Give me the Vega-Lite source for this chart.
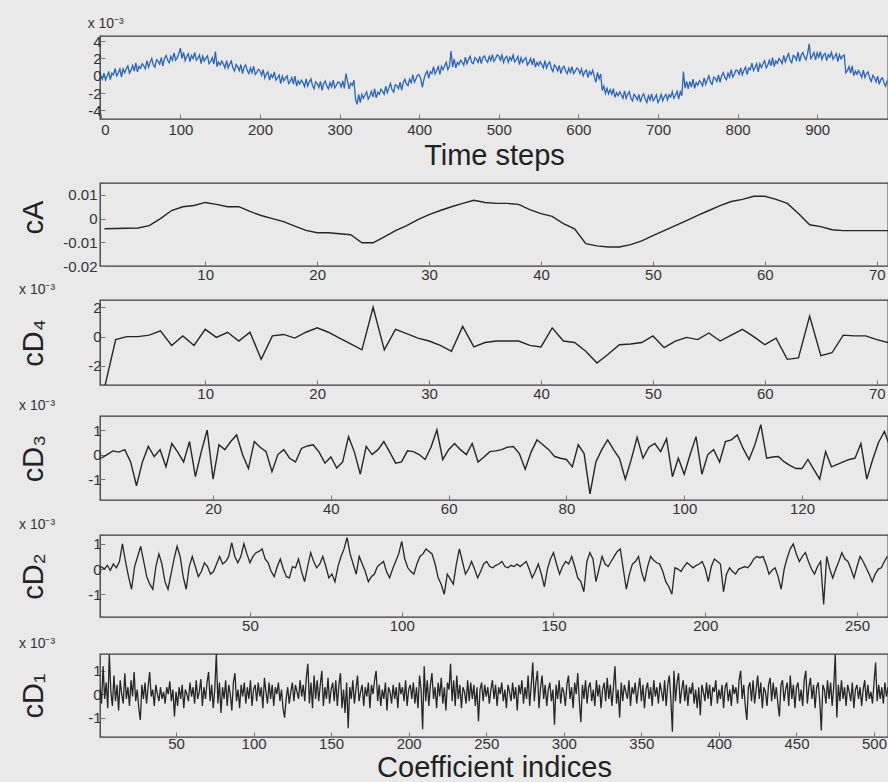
{
"$schema":"https://vega.github.io/schema/vega-lite/v6.json",
"background":"#e9e9ea",
"padding":{"left":18,"top":16,"right":0,"bottom":0},
"bounds":"flush",
"spacing":0,
"config":{
 "font":"Liberation Sans",
 "view":{"stroke":"#3a3a3a","strokeWidth":1.3},
 "axis":{"grid":false,"domain":false,"tickSize":-5,"tickColor":"#777","labelFontSize":15,"labelColor":"#333","titleColor":"#222","titleFontWeight":"normal","labelFont":"Liberation Sans","titleFont":"Liberation Sans","titleFontSize":29},
 "title":{"fontSize":14,"fontWeight":"normal","anchor":"start","offset":3,"color":"#333","font":"Liberation Sans"}
},
"datasets":{
"sig":[{"i":0,"v":0.0},{"i":2,"v":-0.4},{"i":4,"v":0.3},{"i":6,"v":-0.5},{"i":8,"v":0.0},{"i":10,"v":0.4},{"i":12,"v":-0.45},{"i":14,"v":0.3},{"i":16,"v":0.1},{"i":18,"v":0.85},{"i":20,"v":0.0},{"i":22,"v":0.35},{"i":24,"v":0.8},{"i":26,"v":-0.15},{"i":28,"v":0.8},{"i":30,"v":0.35},{"i":32,"v":0.8},{"i":34,"v":1.15},{"i":36,"v":0.3},{"i":38,"v":0.65},{"i":40,"v":1.2},{"i":42,"v":0.55},{"i":44,"v":1.5},{"i":46,"v":0.45},{"i":48,"v":1.1},{"i":50,"v":0.85},{"i":52,"v":1.4},{"i":54,"v":1.15},{"i":56,"v":0.8},{"i":58,"v":1.75},{"i":60,"v":1.0},{"i":62,"v":1.55},{"i":64,"v":2.0},{"i":66,"v":1.25},{"i":68,"v":1.0},{"i":70,"v":1.85},{"i":72,"v":1.7},{"i":74,"v":1.35},{"i":76,"v":2.1},{"i":78,"v":1.15},{"i":80,"v":2.0},{"i":82,"v":2.35},{"i":84,"v":1.8},{"i":86,"v":1.5},{"i":88,"v":2.25},{"i":90,"v":1.8},{"i":92,"v":2.65},{"i":94,"v":1.8},{"i":96,"v":2.1},{"i":98,"v":2.55},{"i":100,"v":3.2},{"i":102,"v":2.0},{"i":104,"v":2.7},{"i":106,"v":1.75},{"i":108,"v":2.25},{"i":110,"v":2.55},{"i":112,"v":1.65},{"i":114,"v":2.35},{"i":116,"v":2.0},{"i":118,"v":2.7},{"i":120,"v":1.8},{"i":122,"v":2.05},{"i":124,"v":2.4},{"i":126,"v":1.4},{"i":128,"v":2.25},{"i":130,"v":1.7},{"i":132,"v":2.05},{"i":134,"v":2.3},{"i":136,"v":1.4},{"i":138,"v":1.65},{"i":140,"v":2.1},{"i":142,"v":1.35},{"i":144,"v":2.8},{"i":146,"v":1.05},{"i":148,"v":1.6},{"i":150,"v":1.25},{"i":152,"v":1.7},{"i":154,"v":1.35},{"i":156,"v":0.9},{"i":158,"v":1.75},{"i":160,"v":0.9},{"i":162,"v":1.35},{"i":164,"v":1.7},{"i":166,"v":0.9},{"i":168,"v":0.55},{"i":170,"v":1.3},{"i":172,"v":1.05},{"i":174,"v":0.6},{"i":176,"v":1.3},{"i":178,"v":0.25},{"i":180,"v":1.0},{"i":182,"v":1.25},{"i":184,"v":0.6},{"i":186,"v":0.25},{"i":188,"v":0.9},{"i":190,"v":0.35},{"i":192,"v":1.1},{"i":194,"v":0.15},{"i":196,"v":0.4},{"i":198,"v":0.75},{"i":200,"v":0.6},{"i":202,"v":0.05},{"i":204,"v":0.7},{"i":206,"v":-0.25},{"i":208,"v":0.2},{"i":210,"v":0.45},{"i":212,"v":-0.5},{"i":214,"v":0.15},{"i":216,"v":-0.2},{"i":218,"v":0.45},{"i":220,"v":-0.5},{"i":222,"v":-0.25},{"i":224,"v":0.1},{"i":226,"v":-0.9},{"i":228,"v":-0.05},{"i":230,"v":-0.6},{"i":232,"v":-0.25},{"i":234,"v":0.0},{"i":236,"v":-0.9},{"i":238,"v":-0.65},{"i":240,"v":-0.2},{"i":242,"v":-0.95},{"i":244,"v":-0.05},{"i":246,"v":-1.2},{"i":248,"v":-0.6},{"i":250,"v":-0.95},{"i":252,"v":-0.5},{"i":254,"v":-0.8},{"i":256,"v":-1.25},{"i":258,"v":-0.35},{"i":260,"v":-1.2},{"i":262,"v":-0.7},{"i":264,"v":-0.35},{"i":266,"v":-1.15},{"i":268,"v":-1.5},{"i":270,"v":-0.7},{"i":272,"v":-0.9},{"i":274,"v":-1.35},{"i":276,"v":-0.65},{"i":278,"v":-1.7},{"i":280,"v":-0.9},{"i":282,"v":-0.6},{"i":284,"v":-1.2},{"i":286,"v":-1.5},{"i":288,"v":-0.8},{"i":290,"v":-1.3},{"i":292,"v":-0.5},{"i":294,"v":-1.4},{"i":296,"v":-1.1},{"i":298,"v":-0.7},{"i":300,"v":-0.8},{"i":302,"v":-1.3},{"i":304,"v":-0.6},{"i":306,"v":-1.45},{"i":308,"v":0.25},{"i":310,"v":-0.65},{"i":312,"v":-1.55},{"i":314,"v":-0.85},{"i":316,"v":-1.1},{"i":318,"v":-0.5},{"i":320,"v":-2.7},{"i":322,"v":-3.3},{"i":324,"v":-2.15},{"i":326,"v":-3.1},{"i":328,"v":-2.15},{"i":330,"v":-2.6},{"i":332,"v":-2.2},{"i":334,"v":-1.85},{"i":336,"v":-2.7},{"i":338,"v":-2.35},{"i":340,"v":-1.8},{"i":342,"v":-2.45},{"i":344,"v":-1.5},{"i":346,"v":-2.55},{"i":348,"v":-1.9},{"i":350,"v":-2.15},{"i":352,"v":-1.55},{"i":354,"v":-1.8},{"i":356,"v":-2.15},{"i":358,"v":-1.2},{"i":360,"v":-1.95},{"i":362,"v":-1.4},{"i":364,"v":-0.9},{"i":366,"v":-1.65},{"i":368,"v":-1.9},{"i":370,"v":-1.05},{"i":372,"v":-1.15},{"i":374,"v":-1.5},{"i":376,"v":-0.75},{"i":378,"v":-1.65},{"i":380,"v":-0.8},{"i":382,"v":-0.4},{"i":384,"v":-0.95},{"i":386,"v":-1.15},{"i":388,"v":-0.4},{"i":390,"v":-0.8},{"i":392,"v":0.1},{"i":394,"v":-0.75},{"i":396,"v":-0.35},{"i":398,"v":0.1},{"i":400,"v":0.1},{"i":402,"v":-0.35},{"i":404,"v":-1.35},{"i":406,"v":-0.4},{"i":408,"v":0.2},{"i":410,"v":0.55},{"i":412,"v":-0.3},{"i":414,"v":0.5},{"i":416,"v":0.25},{"i":418,"v":1.05},{"i":420,"v":0.2},{"i":422,"v":0.6},{"i":424,"v":1.05},{"i":426,"v":0.15},{"i":428,"v":1.1},{"i":430,"v":0.7},{"i":432,"v":1.15},{"i":434,"v":1.55},{"i":436,"v":0.7},{"i":438,"v":1.1},{"i":440,"v":2.85},{"i":442,"v":1.0},{"i":444,"v":1.95},{"i":446,"v":0.9},{"i":448,"v":1.55},{"i":450,"v":1.3},{"i":452,"v":1.8},{"i":454,"v":1.55},{"i":456,"v":1.2},{"i":458,"v":2.15},{"i":460,"v":1.4},{"i":462,"v":1.9},{"i":464,"v":2.25},{"i":466,"v":1.55},{"i":468,"v":1.4},{"i":470,"v":2.1},{"i":472,"v":1.9},{"i":474,"v":1.55},{"i":476,"v":2.25},{"i":478,"v":1.4},{"i":480,"v":2.1},{"i":482,"v":2.3},{"i":484,"v":1.8},{"i":486,"v":1.55},{"i":488,"v":2.25},{"i":490,"v":1.75},{"i":492,"v":2.45},{"i":494,"v":1.65},{"i":496,"v":2.0},{"i":498,"v":2.4},{"i":500,"v":2.3},{"i":502,"v":1.8},{"i":504,"v":2.4},{"i":506,"v":1.55},{"i":508,"v":2.05},{"i":510,"v":2.25},{"i":512,"v":1.55},{"i":514,"v":2.15},{"i":516,"v":1.8},{"i":518,"v":2.4},{"i":520,"v":1.6},{"i":522,"v":1.85},{"i":524,"v":2.25},{"i":526,"v":1.3},{"i":528,"v":2.1},{"i":530,"v":1.55},{"i":532,"v":1.9},{"i":534,"v":2.1},{"i":536,"v":1.25},{"i":538,"v":1.55},{"i":540,"v":2.0},{"i":542,"v":1.25},{"i":544,"v":2.0},{"i":546,"v":1.0},{"i":548,"v":1.55},{"i":550,"v":1.2},{"i":552,"v":1.65},{"i":554,"v":1.3},{"i":556,"v":0.9},{"i":558,"v":1.75},{"i":560,"v":0.9},{"i":562,"v":1.35},{"i":564,"v":1.6},{"i":566,"v":0.85},{"i":568,"v":0.5},{"i":570,"v":1.25},{"i":572,"v":1.0},{"i":574,"v":0.55},{"i":576,"v":1.2},{"i":578,"v":0.25},{"i":580,"v":0.9},{"i":582,"v":1.1},{"i":584,"v":0.55},{"i":586,"v":0.25},{"i":588,"v":0.9},{"i":590,"v":0.4},{"i":592,"v":1.05},{"i":594,"v":0.25},{"i":596,"v":0.5},{"i":598,"v":0.9},{"i":600,"v":0.75},{"i":602,"v":0.25},{"i":604,"v":0.8},{"i":606,"v":0.0},{"i":608,"v":0.45},{"i":610,"v":0.65},{"i":612,"v":-0.2},{"i":614,"v":0.5},{"i":616,"v":0.15},{"i":618,"v":0.65},{"i":620,"v":-0.1},{"i":622,"v":-0.75},{"i":624,"v":0.4},{"i":626,"v":-0.35},{"i":628,"v":0.2},{"i":630,"v":-1.7},{"i":632,"v":-1.2},{"i":634,"v":-2.05},{"i":636,"v":-1.45},{"i":638,"v":-2.1},{"i":640,"v":-1.6},{"i":642,"v":-2.15},{"i":644,"v":-1.5},{"i":646,"v":-2.5},{"i":648,"v":-1.95},{"i":650,"v":-2.3},{"i":652,"v":-1.85},{"i":654,"v":-2.2},{"i":656,"v":-2.6},{"i":658,"v":-1.75},{"i":660,"v":-2.6},{"i":662,"v":-2.15},{"i":664,"v":-1.85},{"i":666,"v":-2.6},{"i":668,"v":-2.9},{"i":670,"v":-2.15},{"i":672,"v":-2.4},{"i":674,"v":-2.8},{"i":676,"v":-2.15},{"i":678,"v":-3.05},{"i":680,"v":-2.4},{"i":682,"v":-2.1},{"i":684,"v":-2.7},{"i":686,"v":-3.1},{"i":688,"v":-2.3},{"i":690,"v":-2.8},{"i":692,"v":-2.1},{"i":694,"v":-2.9},{"i":696,"v":-2.6},{"i":698,"v":-2.2},{"i":700,"v":-3.1},{"i":702,"v":-2.75},{"i":704,"v":-2.15},{"i":706,"v":-2.9},{"i":708,"v":-2.4},{"i":710,"v":-2.15},{"i":712,"v":-2.8},{"i":714,"v":-2.2},{"i":716,"v":-2.45},{"i":718,"v":-1.85},{"i":720,"v":-2.6},{"i":722,"v":-2.25},{"i":724,"v":-1.8},{"i":726,"v":-2.7},{"i":728,"v":-1.85},{"i":730,"v":-2.3},{"i":732,"v":0.5},{"i":734,"v":-1.45},{"i":736,"v":-0.65},{"i":738,"v":-1.5},{"i":740,"v":-0.65},{"i":742,"v":-1.3},{"i":744,"v":-0.4},{"i":746,"v":-1.45},{"i":748,"v":-0.8},{"i":750,"v":-1.1},{"i":752,"v":-0.55},{"i":754,"v":-0.8},{"i":756,"v":-1.15},{"i":758,"v":-0.25},{"i":760,"v":-1.0},{"i":762,"v":-0.45},{"i":764,"v":0.0},{"i":766,"v":-0.75},{"i":768,"v":-1.0},{"i":770,"v":-0.15},{"i":772,"v":-0.3},{"i":774,"v":-0.65},{"i":776,"v":0.1},{"i":778,"v":-0.75},{"i":780,"v":0.0},{"i":782,"v":0.35},{"i":784,"v":-0.2},{"i":786,"v":-0.45},{"i":788,"v":0.3},{"i":790,"v":-0.15},{"i":792,"v":0.7},{"i":794,"v":-0.15},{"i":796,"v":0.2},{"i":798,"v":0.65},{"i":800,"v":0.6},{"i":802,"v":0.15},{"i":804,"v":0.9},{"i":806,"v":0.1},{"i":808,"v":0.65},{"i":810,"v":1.0},{"i":812,"v":0.15},{"i":814,"v":0.9},{"i":816,"v":0.7},{"i":818,"v":1.45},{"i":820,"v":0.6},{"i":822,"v":0.95},{"i":824,"v":1.4},{"i":826,"v":0.45},{"i":828,"v":1.4},{"i":830,"v":0.95},{"i":832,"v":1.4},{"i":834,"v":1.75},{"i":836,"v":0.9},{"i":838,"v":1.25},{"i":840,"v":1.8},{"i":842,"v":1.15},{"i":844,"v":2.1},{"i":846,"v":1.05},{"i":848,"v":1.7},{"i":850,"v":1.45},{"i":852,"v":2.0},{"i":854,"v":1.75},{"i":856,"v":1.4},{"i":858,"v":2.35},{"i":860,"v":1.6},{"i":862,"v":2.15},{"i":864,"v":2.55},{"i":866,"v":1.8},{"i":868,"v":1.5},{"i":870,"v":2.35},{"i":872,"v":2.2},{"i":874,"v":1.8},{"i":876,"v":2.75},{"i":878,"v":1.65},{"i":880,"v":2.4},{"i":882,"v":2.7},{"i":884,"v":2.15},{"i":886,"v":1.85},{"i":888,"v":2.55},{"i":890,"v":3.7},{"i":892,"v":2.0},{"i":894,"v":2.3},{"i":896,"v":2.7},{"i":898,"v":1.85},{"i":900,"v":2.65},{"i":902,"v":2.15},{"i":904,"v":2.8},{"i":906,"v":1.9},{"i":908,"v":2.4},{"i":910,"v":2.6},{"i":912,"v":1.75},{"i":914,"v":2.45},{"i":916,"v":2.15},{"i":918,"v":2.7},{"i":920,"v":1.9},{"i":922,"v":2.2},{"i":924,"v":2.55},{"i":926,"v":1.65},{"i":928,"v":2.45},{"i":930,"v":1.95},{"i":932,"v":2.3},{"i":934,"v":2.4},{"i":936,"v":0.35},{"i":938,"v":0.6},{"i":940,"v":1.05},{"i":942,"v":0.3},{"i":944,"v":1.15},{"i":946,"v":0.0},{"i":948,"v":0.55},{"i":950,"v":0.15},{"i":952,"v":0.6},{"i":954,"v":0.25},{"i":956,"v":-0.2},{"i":958,"v":0.65},{"i":960,"v":-0.2},{"i":962,"v":0.25},{"i":964,"v":0.45},{"i":966,"v":-0.3},{"i":968,"v":-0.65},{"i":970,"v":0.05},{"i":972,"v":-0.2},{"i":974,"v":-0.7},{"i":976,"v":-0.05},{"i":978,"v":-1.0},{"i":980,"v":-0.4},{"i":982,"v":-0.25},{"i":984,"v":-0.8},{"i":986,"v":-1.2},{"i":988,"v":-0.55}],
"ca":[{"i":1,"v":-0.0043},{"i":2,"v":-0.0042},{"i":3,"v":-0.0041},{"i":4,"v":-0.004},{"i":5,"v":-0.003},{"i":6,"v":0.0},{"i":7,"v":0.0034},{"i":8,"v":0.005},{"i":9,"v":0.0055},{"i":10,"v":0.0068},{"i":11,"v":0.006},{"i":12,"v":0.005},{"i":13,"v":0.005},{"i":14,"v":0.003},{"i":15,"v":0.0013},{"i":16,"v":0.0},{"i":17,"v":-0.0013},{"i":18,"v":-0.0032},{"i":19,"v":-0.005},{"i":20,"v":-0.006},{"i":21,"v":-0.006},{"i":22,"v":-0.0064},{"i":23,"v":-0.0068},{"i":24,"v":-0.0102},{"i":25,"v":-0.0102},{"i":26,"v":-0.0077},{"i":27,"v":-0.0051},{"i":28,"v":-0.003},{"i":29,"v":-0.0004},{"i":30,"v":0.0017},{"i":31,"v":0.0034},{"i":32,"v":0.005},{"i":33,"v":0.0064},{"i":34,"v":0.0077},{"i":35,"v":0.0068},{"i":36,"v":0.0064},{"i":37,"v":0.0064},{"i":38,"v":0.006},{"i":39,"v":0.0038},{"i":40,"v":0.0021},{"i":41,"v":0.0009},{"i":42,"v":-0.0021},{"i":43,"v":-0.0043},{"i":44,"v":-0.0106},{"i":45,"v":-0.0115},{"i":46,"v":-0.012},{"i":47,"v":-0.012},{"i":48,"v":-0.011},{"i":49,"v":-0.0094},{"i":50,"v":-0.0072},{"i":51,"v":-0.0051},{"i":52,"v":-0.003},{"i":53,"v":-0.0009},{"i":54,"v":0.0013},{"i":55,"v":0.0034},{"i":56,"v":0.0055},{"i":57,"v":0.0072},{"i":58,"v":0.0081},{"i":59,"v":0.0094},{"i":60,"v":0.0094},{"i":61,"v":0.0081},{"i":62,"v":0.0064},{"i":63,"v":0.0021},{"i":64,"v":-0.0026},{"i":65,"v":-0.0034},{"i":66,"v":-0.0047},{"i":67,"v":-0.0051},{"i":68,"v":-0.0051},{"i":69,"v":-0.0051},{"i":70,"v":-0.0051},{"i":71,"v":-0.0051}],
"d4":[{"i":1,"v":-3.5},{"i":2,"v":-0.2},{"i":3,"v":0},{"i":4,"v":0},{"i":5,"v":0.1},{"i":6,"v":0.4},{"i":7,"v":-0.6},{"i":8,"v":0.05},{"i":9,"v":-0.6},{"i":10,"v":0.5},{"i":11,"v":-0.05},{"i":12,"v":0.3},{"i":13,"v":-0.3},{"i":14,"v":0.3},{"i":15,"v":-1.55},{"i":16,"v":0.05},{"i":17,"v":0.15},{"i":18,"v":-0.1},{"i":19,"v":0.3},{"i":20,"v":0.6},{"i":21,"v":0.3},{"i":22,"v":-0.1},{"i":23,"v":-0.5},{"i":24,"v":-0.9},{"i":25,"v":2.0},{"i":26,"v":-0.9},{"i":27,"v":0.5},{"i":28,"v":0.2},{"i":29,"v":-0.1},{"i":30,"v":-0.3},{"i":31,"v":-0.6},{"i":32,"v":-1.0},{"i":33,"v":0.7},{"i":34,"v":-0.7},{"i":35,"v":-0.4},{"i":36,"v":-0.3},{"i":37,"v":-0.3},{"i":38,"v":-0.3},{"i":39,"v":-0.6},{"i":40,"v":-0.7},{"i":41,"v":0.6},{"i":42,"v":-0.3},{"i":43,"v":-0.4},{"i":44,"v":-1.0},{"i":45,"v":-1.8},{"i":46,"v":-1.2},{"i":47,"v":-0.55},{"i":48,"v":-0.5},{"i":49,"v":-0.4},{"i":50,"v":0.05},{"i":51,"v":-0.75},{"i":52,"v":-0.3},{"i":53,"v":-0.05},{"i":54,"v":-0.2},{"i":55,"v":0.25},{"i":56,"v":-0.3},{"i":57,"v":0.1},{"i":58,"v":0.5},{"i":59,"v":0.0},{"i":60,"v":-0.55},{"i":61,"v":-0.1},{"i":62,"v":-1.55},{"i":63,"v":-1.45},{"i":64,"v":1.4},{"i":65,"v":-1.3},{"i":66,"v":-1.1},{"i":67,"v":0.1},{"i":68,"v":0.05},{"i":69,"v":0.05},{"i":70,"v":-0.2},{"i":71,"v":-0.4}],
"d3":[{"i":1,"v":-0.15},{"i":2,"v":0},{"i":3,"v":0.15},{"i":4,"v":0.1},{"i":5,"v":0.2},{"i":6,"v":-0.3},{"i":7,"v":-1.27},{"i":8,"v":-0.3},{"i":9,"v":0.33},{"i":10,"v":-0.08},{"i":11,"v":0.2},{"i":12,"v":-0.5},{"i":13,"v":0.45},{"i":14,"v":0.1},{"i":15,"v":-0.3},{"i":16,"v":0.53},{"i":17,"v":-0.9},{"i":18,"v":0.12},{"i":19,"v":1.0},{"i":20,"v":-1.0},{"i":21,"v":0.4},{"i":22,"v":0.2},{"i":23,"v":0.53},{"i":24,"v":0.8},{"i":25,"v":0},{"i":26,"v":-0.57},{"i":27,"v":0.53},{"i":28,"v":0.3},{"i":29,"v":0.12},{"i":30,"v":-0.7},{"i":31,"v":0.0},{"i":32,"v":0.2},{"i":33,"v":-0.15},{"i":34,"v":-0.3},{"i":35,"v":0.25},{"i":36,"v":0.35},{"i":37,"v":0.4},{"i":38,"v":0.1},{"i":39,"v":-0.35},{"i":40,"v":-0.1},{"i":41,"v":-0.55},{"i":42,"v":-0.3},{"i":43,"v":0.73},{"i":44,"v":0.1},{"i":45,"v":-0.8},{"i":46,"v":0.33},{"i":47,"v":0},{"i":48,"v":0.2},{"i":49,"v":0.53},{"i":50,"v":0.1},{"i":51,"v":-0.35},{"i":52,"v":-0.3},{"i":53,"v":0.15},{"i":54,"v":0.12},{"i":55,"v":0},{"i":56,"v":-0.2},{"i":57,"v":0.3},{"i":58,"v":1.0},{"i":59,"v":-0.2},{"i":60,"v":0.2},{"i":61,"v":0.45},{"i":62,"v":0.2},{"i":63,"v":0},{"i":64,"v":0.45},{"i":65,"v":-0.3},{"i":66,"v":-0.1},{"i":67,"v":0.12},{"i":68,"v":0.15},{"i":69,"v":0.2},{"i":70,"v":0.3},{"i":71,"v":0.33},{"i":72,"v":0.04},{"i":73,"v":-0.6},{"i":74,"v":0.1},{"i":75,"v":0.6},{"i":76,"v":0.4},{"i":77,"v":0.2},{"i":78,"v":-0.08},{"i":79,"v":-0.15},{"i":80,"v":-0.2},{"i":81,"v":-0.5},{"i":82,"v":0.4},{"i":83,"v":0.04},{"i":84,"v":-1.6},{"i":85,"v":-0.3},{"i":86,"v":0.2},{"i":87,"v":0.6},{"i":88,"v":0.2},{"i":89,"v":-0.15},{"i":90,"v":-1.0},{"i":91,"v":-0.2},{"i":92,"v":0.7},{"i":93,"v":-0.15},{"i":94,"v":0.3},{"i":95,"v":0.45},{"i":96,"v":0.12},{"i":97,"v":0.65},{"i":98,"v":-0.9},{"i":99,"v":-0.15},{"i":100,"v":-0.8},{"i":101,"v":0},{"i":102,"v":0.73},{"i":103,"v":-0.8},{"i":104,"v":0},{"i":105,"v":0.2},{"i":106,"v":-0.3},{"i":107,"v":0.53},{"i":108,"v":0.6},{"i":109,"v":0.8},{"i":110,"v":0.25},{"i":111,"v":-0.2},{"i":112,"v":0.4},{"i":113,"v":1.22},{"i":114,"v":-0.15},{"i":115,"v":-0.1},{"i":116,"v":-0.08},{"i":117,"v":-0.3},{"i":118,"v":-0.45},{"i":119,"v":-0.57},{"i":120,"v":-0.57},{"i":121,"v":-0.2},{"i":122,"v":-0.6},{"i":123,"v":-1.0},{"i":124,"v":0.12},{"i":125,"v":-0.5},{"i":126,"v":-0.4},{"i":127,"v":-0.3},{"i":128,"v":-0.2},{"i":129,"v":-0.15},{"i":130,"v":0.45},{"i":131,"v":-1.0},{"i":132,"v":-0.2},{"i":133,"v":0.5},{"i":134,"v":0.94},{"i":135,"v":0.25}],
"d2":[{"i":1,"v":0.1},{"i":2,"v":0.0},{"i":3,"v":0.15},{"i":4,"v":-0.05},{"i":5,"v":0.2},{"i":6,"v":0.05},{"i":7,"v":0.3},{"i":8,"v":1.0},{"i":9,"v":0.3},{"i":10,"v":-0.3},{"i":11,"v":-0.8},{"i":12,"v":0.1},{"i":13,"v":0.5},{"i":14,"v":0.9},{"i":15,"v":0.3},{"i":16,"v":-0.3},{"i":17,"v":-0.6},{"i":18,"v":-0.8},{"i":19,"v":0.1},{"i":20,"v":0.6},{"i":21,"v":0.2},{"i":22,"v":-0.5},{"i":23,"v":-0.8},{"i":24,"v":-0.2},{"i":25,"v":0.4},{"i":26,"v":0.9},{"i":27,"v":0.5},{"i":28,"v":-0.3},{"i":29,"v":-0.8},{"i":30,"v":0.1},{"i":31,"v":0.5},{"i":32,"v":0.1},{"i":33,"v":-0.3},{"i":34,"v":-0.1},{"i":35,"v":0.25},{"i":36,"v":0.1},{"i":37,"v":-0.2},{"i":38,"v":-0.1},{"i":39,"v":0.2},{"i":40,"v":0.5},{"i":41,"v":0.2},{"i":42,"v":0.3},{"i":43,"v":0.5},{"i":44,"v":1.05},{"i":45,"v":0.5},{"i":46,"v":0.25},{"i":47,"v":0.5},{"i":48,"v":1.0},{"i":49,"v":0.6},{"i":50,"v":0.25},{"i":51,"v":0.5},{"i":52,"v":0.65},{"i":53,"v":0.7},{"i":54,"v":0.8},{"i":55,"v":0.4},{"i":56,"v":0.25},{"i":57,"v":-0.1},{"i":58,"v":-0.3},{"i":59,"v":0.1},{"i":60,"v":0.4},{"i":61,"v":0.0},{"i":62,"v":-0.3},{"i":63,"v":-0.35},{"i":64,"v":0.1},{"i":65,"v":0.05},{"i":66,"v":0.4},{"i":67,"v":-0.1},{"i":68,"v":-0.5},{"i":69,"v":0.1},{"i":70,"v":0.65},{"i":71,"v":0.3},{"i":72,"v":0.05},{"i":73,"v":0.2},{"i":74,"v":0.5},{"i":75,"v":0.1},{"i":76,"v":-0.35},{"i":77,"v":-0.2},{"i":78,"v":-0.5},{"i":79,"v":0.1},{"i":80,"v":0.5},{"i":81,"v":0.8},{"i":82,"v":1.25},{"i":83,"v":0.6},{"i":84,"v":0.2},{"i":85,"v":-0.2},{"i":86,"v":0.5},{"i":87,"v":0.2},{"i":88,"v":-0.1},{"i":89,"v":-0.5},{"i":90,"v":-0.3},{"i":91,"v":-0.2},{"i":92,"v":0.1},{"i":93,"v":0.2},{"i":94,"v":0.3},{"i":95,"v":-0.1},{"i":96,"v":-0.35},{"i":97,"v":0.0},{"i":98,"v":0.3},{"i":99,"v":0.6},{"i":100,"v":1.1},{"i":101,"v":0.4},{"i":102,"v":0.05},{"i":103,"v":-0.1},{"i":104,"v":-0.2},{"i":105,"v":0.2},{"i":106,"v":0.5},{"i":107,"v":0.6},{"i":108,"v":0.8},{"i":109,"v":0.7},{"i":110,"v":0.6},{"i":111,"v":0.2},{"i":112,"v":-0.35},{"i":113,"v":-0.6},{"i":114,"v":-1.0},{"i":115,"v":-0.2},{"i":116,"v":-0.4},{"i":117,"v":-0.6},{"i":118,"v":0.2},{"i":119,"v":0.8},{"i":120,"v":0.3},{"i":121,"v":-0.2},{"i":122,"v":0.0},{"i":123,"v":0.3},{"i":124,"v":0.0},{"i":125,"v":-0.35},{"i":126,"v":-0.1},{"i":127,"v":0.2},{"i":128,"v":0.3},{"i":129,"v":0.1},{"i":130,"v":0.05},{"i":131,"v":0.15},{"i":132,"v":0.2},{"i":133,"v":0.3},{"i":134,"v":0.1},{"i":135,"v":0.05},{"i":136,"v":0.15},{"i":137,"v":0.1},{"i":138,"v":0.2},{"i":139,"v":0.1},{"i":140,"v":0.2},{"i":141,"v":0.3},{"i":142,"v":0.0},{"i":143,"v":-0.35},{"i":144,"v":-0.1},{"i":145,"v":0.2},{"i":146,"v":-0.2},{"i":147,"v":-0.7},{"i":148,"v":0.0},{"i":149,"v":0.4},{"i":150,"v":0.65},{"i":151,"v":0.2},{"i":152,"v":-0.2},{"i":153,"v":0.1},{"i":154,"v":0.3},{"i":155,"v":0.2},{"i":156,"v":0.5},{"i":157,"v":0.1},{"i":158,"v":-0.35},{"i":159,"v":-0.5},{"i":160,"v":-0.9},{"i":161,"v":0.3},{"i":162,"v":0.65},{"i":163,"v":0.4},{"i":164,"v":-0.5},{"i":165,"v":0.0},{"i":166,"v":0.5},{"i":167,"v":0.2},{"i":168,"v":0.1},{"i":169,"v":0.3},{"i":170,"v":0.5},{"i":171,"v":0.7},{"i":172,"v":0.8},{"i":173,"v":0.0},{"i":174,"v":-0.8},{"i":175,"v":-0.2},{"i":176,"v":0.2},{"i":177,"v":0.3},{"i":178,"v":0.5},{"i":179,"v":-0.1},{"i":180,"v":-0.5},{"i":181,"v":0.1},{"i":182,"v":0.5},{"i":183,"v":0.35},{"i":184,"v":0.25},{"i":185,"v":0.2},{"i":186,"v":-0.1},{"i":187,"v":-0.5},{"i":188,"v":-0.7},{"i":189,"v":-1.0},{"i":190,"v":0.05},{"i":191,"v":0.0},{"i":192,"v":-0.1},{"i":193,"v":0.1},{"i":194,"v":0.25},{"i":195,"v":0.15},{"i":196,"v":0.05},{"i":197,"v":0.15},{"i":198,"v":0.2},{"i":199,"v":0.3},{"i":200,"v":0.0},{"i":201,"v":-0.5},{"i":202,"v":0.1},{"i":203,"v":0.4},{"i":204,"v":0.3},{"i":205,"v":0.2},{"i":206,"v":-0.9},{"i":207,"v":-0.2},{"i":208,"v":0.05},{"i":209,"v":-0.1},{"i":210,"v":-0.2},{"i":211,"v":0.0},{"i":212,"v":0.05},{"i":213,"v":0.1},{"i":214,"v":0.05},{"i":215,"v":0.2},{"i":216,"v":0.4},{"i":217,"v":0.5},{"i":218,"v":0.45},{"i":219,"v":0.5},{"i":220,"v":0.2},{"i":221,"v":-0.2},{"i":222,"v":-0.05},{"i":223,"v":0.05},{"i":224,"v":-0.3},{"i":225,"v":-0.8},{"i":226,"v":0.0},{"i":227,"v":0.45},{"i":228,"v":0.8},{"i":229,"v":1.0},{"i":230,"v":0.6},{"i":231,"v":0.3},{"i":232,"v":0.5},{"i":233,"v":0.65},{"i":234,"v":0.3},{"i":235,"v":0.0},{"i":236,"v":-0.2},{"i":237,"v":0.1},{"i":238,"v":0.3},{"i":239,"v":-1.4},{"i":240,"v":0.5},{"i":241,"v":0.0},{"i":242,"v":-0.35},{"i":243,"v":0.0},{"i":244,"v":0.3},{"i":245,"v":0.65},{"i":246,"v":0.4},{"i":247,"v":0.3},{"i":248,"v":0.0},{"i":249,"v":-0.35},{"i":250,"v":0.1},{"i":251,"v":0.5},{"i":252,"v":0.3},{"i":253,"v":0.05},{"i":254,"v":-0.2},{"i":255,"v":-0.5},{"i":256,"v":-0.2},{"i":257,"v":0.0},{"i":258,"v":0.05},{"i":259,"v":0.3},{"i":260,"v":0.5}],
"d1":[{"i":1,"v":0.3},{"i":2,"v":-0.4},{"i":3,"v":1.2},{"i":4,"v":-0.2},{"i":5,"v":0.5},{"i":6,"v":-0.6},{"i":7,"v":1.7},{"i":8,"v":0.1},{"i":9,"v":-0.5},{"i":10,"v":0.8},{"i":11,"v":-0.3},{"i":12,"v":0.4},{"i":13,"v":-0.7},{"i":14,"v":0.6},{"i":15,"v":0.0},{"i":16,"v":-0.4},{"i":17,"v":0.9},{"i":18,"v":-0.2},{"i":19,"v":0.3},{"i":20,"v":-0.5},{"i":21,"v":0.6},{"i":22,"v":-0.1},{"i":23,"v":0.95},{"i":24,"v":-0.3},{"i":25,"v":0.2},{"i":26,"v":-0.6},{"i":27,"v":-1.1},{"i":28,"v":0.4},{"i":29,"v":-0.2},{"i":30,"v":0.5},{"i":31,"v":-0.4},{"i":32,"v":0.3},{"i":33,"v":0.95},{"i":34,"v":-0.1},{"i":35,"v":0.2},{"i":36,"v":-0.5},{"i":37,"v":0.4},{"i":38,"v":0.0},{"i":39,"v":-0.3},{"i":40,"v":0.3},{"i":41,"v":-0.2},{"i":42,"v":0.1},{"i":43,"v":-0.4},{"i":44,"v":0.3},{"i":45,"v":0.0},{"i":46,"v":0.55},{"i":47,"v":-0.3},{"i":48,"v":0.2},{"i":49,"v":-0.95},{"i":50,"v":0.1},{"i":51,"v":-0.5},{"i":52,"v":0.3},{"i":53,"v":-0.2},{"i":54,"v":0.4},{"i":55,"v":-0.6},{"i":56,"v":0.2},{"i":57,"v":0.0},{"i":58,"v":-0.3},{"i":59,"v":0.5},{"i":60,"v":-0.1},{"i":61,"v":0.3},{"i":62,"v":-0.4},{"i":63,"v":0.6},{"i":64,"v":-0.2},{"i":65,"v":0.1},{"i":66,"v":0.65},{"i":67,"v":-0.5},{"i":68,"v":0.3},{"i":69,"v":-0.2},{"i":70,"v":0.5},{"i":71,"v":0.95},{"i":72,"v":-0.3},{"i":73,"v":0.4},{"i":74,"v":-0.6},{"i":75,"v":0.2},{"i":76,"v":1.75},{"i":77,"v":-0.4},{"i":78,"v":0.5},{"i":79,"v":-0.8},{"i":80,"v":0.3},{"i":81,"v":-0.2},{"i":82,"v":0.6},{"i":83,"v":-0.5},{"i":84,"v":0.4},{"i":85,"v":0.0},{"i":86,"v":-0.7},{"i":87,"v":0.5},{"i":88,"v":0.9},{"i":89,"v":-0.3},{"i":90,"v":0.2},{"i":91,"v":-0.6},{"i":92,"v":0.4},{"i":93,"v":-0.1},{"i":94,"v":0.5},{"i":95,"v":-0.4},{"i":96,"v":0.3},{"i":97,"v":-0.2},{"i":98,"v":0.6},{"i":99,"v":-0.5},{"i":100,"v":0.2},{"i":101,"v":0.4},{"i":102,"v":-0.3},{"i":103,"v":0.5},{"i":104,"v":-0.1},{"i":105,"v":0.3},{"i":106,"v":-0.6},{"i":107,"v":0.7},{"i":108,"v":0.1},{"i":109,"v":-0.4},{"i":110,"v":0.5},{"i":111,"v":-0.2},{"i":112,"v":0.4},{"i":113,"v":-0.5},{"i":114,"v":0.3},{"i":115,"v":0.0},{"i":116,"v":0.5},{"i":117,"v":-0.3},{"i":118,"v":0.2},{"i":119,"v":-0.6},{"i":120,"v":-1.0},{"i":121,"v":-0.2},{"i":122,"v":0.3},{"i":123,"v":-0.4},{"i":124,"v":0.1},{"i":125,"v":0.5},{"i":126,"v":-0.3},{"i":127,"v":0.4},{"i":128,"v":0.1},{"i":129,"v":-0.2},{"i":130,"v":0.6},{"i":131,"v":-0.1},{"i":132,"v":0.4},{"i":133,"v":-0.3},{"i":134,"v":0.7},{"i":135,"v":1.3},{"i":136,"v":-0.4},{"i":137,"v":0.5},{"i":138,"v":-0.6},{"i":139,"v":0.8},{"i":140,"v":-0.2},{"i":141,"v":0.6},{"i":142,"v":-0.3},{"i":143,"v":0.4},{"i":144,"v":1.0},{"i":145,"v":-0.5},{"i":146,"v":0.3},{"i":147,"v":-0.2},{"i":148,"v":0.7},{"i":149,"v":-0.4},{"i":150,"v":0.2},{"i":151,"v":0.5},{"i":152,"v":-0.3},{"i":153,"v":0.6},{"i":154,"v":-0.5},{"i":155,"v":0.4},{"i":156,"v":0.9},{"i":157,"v":-0.6},{"i":158,"v":0.2},{"i":159,"v":-0.8},{"i":160,"v":0.5},{"i":161,"v":-1.45},{"i":162,"v":0.3},{"i":163,"v":-0.2},{"i":164,"v":0.6},{"i":165,"v":-0.4},{"i":166,"v":0.2},{"i":167,"v":0.8},{"i":168,"v":-0.3},{"i":169,"v":0.1},{"i":170,"v":0.4},{"i":171,"v":-0.5},{"i":172,"v":0.3},{"i":173,"v":-0.1},{"i":174,"v":0.5},{"i":175,"v":-0.6},{"i":176,"v":0.4},{"i":177,"v":0.0},{"i":178,"v":0.6},{"i":179,"v":1.0},{"i":180,"v":-0.3},{"i":181,"v":0.4},{"i":182,"v":-0.5},{"i":183,"v":0.2},{"i":184,"v":-0.2},{"i":185,"v":0.5},{"i":186,"v":-0.7},{"i":187,"v":0.3},{"i":188,"v":0.1},{"i":189,"v":-0.4},{"i":190,"v":0.4},{"i":191,"v":-0.2},{"i":192,"v":0.3},{"i":193,"v":-0.6},{"i":194,"v":0.5},{"i":195,"v":0.0},{"i":196,"v":0.3},{"i":197,"v":-0.3},{"i":198,"v":0.6},{"i":199,"v":-0.5},{"i":200,"v":0.2},{"i":201,"v":0.4},{"i":202,"v":-0.2},{"i":203,"v":0.5},{"i":204,"v":-0.4},{"i":205,"v":0.3},{"i":206,"v":-0.6},{"i":207,"v":0.8},{"i":208,"v":0.2},{"i":209,"v":-1.5},{"i":210,"v":1.2},{"i":211,"v":-0.3},{"i":212,"v":0.6},{"i":213,"v":-0.5},{"i":214,"v":0.4},{"i":215,"v":0.9},{"i":216,"v":-0.2},{"i":217,"v":0.3},{"i":218,"v":-0.6},{"i":219,"v":0.5},{"i":220,"v":-0.1},{"i":221,"v":0.7},{"i":222,"v":-0.4},{"i":223,"v":0.3},{"i":224,"v":-0.7},{"i":225,"v":0.5},{"i":226,"v":0.2},{"i":227,"v":1.3},{"i":228,"v":-0.3},{"i":229,"v":0.6},{"i":230,"v":-0.5},{"i":231,"v":0.8},{"i":232,"v":-0.2},{"i":233,"v":0.4},{"i":234,"v":-0.6},{"i":235,"v":0.3},{"i":236,"v":0.1},{"i":237,"v":-0.4},{"i":238,"v":0.6},{"i":239,"v":-0.3},{"i":240,"v":0.5},{"i":241,"v":-0.2},{"i":242,"v":0.4},{"i":243,"v":-0.5},{"i":244,"v":0.3},{"i":245,"v":-1.15},{"i":246,"v":0.2},{"i":247,"v":0.5},{"i":248,"v":-0.3},{"i":249,"v":0.4},{"i":250,"v":-0.1},{"i":251,"v":0.3},{"i":252,"v":-0.4},{"i":253,"v":0.2},{"i":254,"v":0.6},{"i":255,"v":-0.2},{"i":256,"v":0.4},{"i":257,"v":-0.5},{"i":258,"v":0.3},{"i":259,"v":0.0},{"i":260,"v":0.5},{"i":261,"v":-0.3},{"i":262,"v":0.2},{"i":263,"v":-0.6},{"i":264,"v":0.4},{"i":265,"v":0.1},{"i":266,"v":-0.3},{"i":267,"v":0.5},{"i":268,"v":-0.2},{"i":269,"v":0.3},{"i":270,"v":-0.7},{"i":271,"v":0.4},{"i":272,"v":0.0},{"i":273,"v":0.6},{"i":274,"v":-0.4},{"i":275,"v":0.3},{"i":276,"v":-0.2},{"i":277,"v":0.8},{"i":278,"v":-0.5},{"i":279,"v":0.4},{"i":280,"v":1.35},{"i":281,"v":-0.3},{"i":282,"v":0.5},{"i":283,"v":1.0},{"i":284,"v":-0.6},{"i":285,"v":0.3},{"i":286,"v":0.8},{"i":287,"v":-0.2},{"i":288,"v":0.4},{"i":289,"v":-0.5},{"i":290,"v":0.2},{"i":291,"v":0.5},{"i":292,"v":-0.3},{"i":293,"v":0.2},{"i":294,"v":-1.3},{"i":295,"v":0.4},{"i":296,"v":-0.2},{"i":297,"v":0.6},{"i":298,"v":-0.4},{"i":299,"v":0.3},{"i":300,"v":0.1},{"i":301,"v":-0.5},{"i":302,"v":0.4},{"i":303,"v":0.8},{"i":304,"v":-0.2},{"i":305,"v":0.3},{"i":306,"v":-0.6},{"i":307,"v":0.5},{"i":308,"v":0.0},{"i":309,"v":0.9},{"i":310,"v":-0.3},{"i":311,"v":-1.2},{"i":312,"v":0.4},{"i":313,"v":-0.2},{"i":314,"v":0.6},{"i":315,"v":-0.4},{"i":316,"v":0.3},{"i":317,"v":0.5},{"i":318,"v":-0.3},{"i":319,"v":0.2},{"i":320,"v":-0.5},{"i":321,"v":0.6},{"i":322,"v":-0.1},{"i":323,"v":0.4},{"i":324,"v":-0.6},{"i":325,"v":0.2},{"i":326,"v":0.5},{"i":327,"v":-0.3},{"i":328,"v":0.7},{"i":329,"v":-0.2},{"i":330,"v":0.4},{"i":331,"v":-0.5},{"i":332,"v":0.3},{"i":333,"v":1.2},{"i":334,"v":-0.4},{"i":335,"v":0.2},{"i":336,"v":-1.0},{"i":337,"v":0.5},{"i":338,"v":-0.3},{"i":339,"v":0.4},{"i":340,"v":0.1},{"i":341,"v":-0.2},{"i":342,"v":0.6},{"i":343,"v":-0.5},{"i":344,"v":0.3},{"i":345,"v":0.0},{"i":346,"v":0.5},{"i":347,"v":-0.4},{"i":348,"v":0.2},{"i":349,"v":0.7},{"i":350,"v":-0.3},{"i":351,"v":0.4},{"i":352,"v":-0.6},{"i":353,"v":0.2},{"i":354,"v":0.5},{"i":355,"v":-0.2},{"i":356,"v":0.3},{"i":357,"v":-0.5},{"i":358,"v":0.6},{"i":359,"v":-0.1},{"i":360,"v":0.3},{"i":361,"v":-0.4},{"i":362,"v":0.5},{"i":363,"v":0.1},{"i":364,"v":-0.3},{"i":365,"v":0.6},{"i":366,"v":-0.5},{"i":367,"v":0.4},{"i":368,"v":0.8},{"i":369,"v":-0.2},{"i":370,"v":-1.6},{"i":371,"v":1.0},{"i":372,"v":-0.3},{"i":373,"v":0.5},{"i":374,"v":0.9},{"i":375,"v":-0.4},{"i":376,"v":0.2},{"i":377,"v":0.6},{"i":378,"v":-0.3},{"i":379,"v":0.4},{"i":380,"v":-0.5},{"i":381,"v":0.3},{"i":382,"v":0.0},{"i":383,"v":0.5},{"i":384,"v":-0.4},{"i":385,"v":0.2},{"i":386,"v":-0.6},{"i":387,"v":0.3},{"i":388,"v":-0.9},{"i":389,"v":0.4},{"i":390,"v":0.1},{"i":391,"v":-0.3},{"i":392,"v":0.5},{"i":393,"v":-0.2},{"i":394,"v":0.4},{"i":395,"v":-0.5},{"i":396,"v":0.3},{"i":397,"v":0.1},{"i":398,"v":0.6},{"i":399,"v":-0.4},{"i":400,"v":0.2},{"i":401,"v":-0.2},{"i":402,"v":0.4},{"i":403,"v":-0.6},{"i":404,"v":0.3},{"i":405,"v":0.5},{"i":406,"v":-0.3},{"i":407,"v":0.2},{"i":408,"v":-0.5},{"i":409,"v":0.4},{"i":410,"v":0.0},{"i":411,"v":0.3},{"i":412,"v":-0.4},{"i":413,"v":0.6},{"i":414,"v":1.0},{"i":415,"v":-0.2},{"i":416,"v":0.4},{"i":417,"v":-0.5},{"i":418,"v":-1.1},{"i":419,"v":0.3},{"i":420,"v":0.5},{"i":421,"v":-0.3},{"i":422,"v":0.6},{"i":423,"v":-0.4},{"i":424,"v":0.2},{"i":425,"v":0.8},{"i":426,"v":-0.2},{"i":427,"v":0.5},{"i":428,"v":-0.6},{"i":429,"v":0.3},{"i":430,"v":0.1},{"i":431,"v":-0.5},{"i":432,"v":0.4},{"i":433,"v":0.7},{"i":434,"v":-0.3},{"i":435,"v":0.5},{"i":436,"v":-0.2},{"i":437,"v":0.3},{"i":438,"v":-0.4},{"i":439,"v":-0.95},{"i":440,"v":0.4},{"i":441,"v":0.6},{"i":442,"v":-0.3},{"i":443,"v":0.2},{"i":444,"v":0.5},{"i":445,"v":-0.5},{"i":446,"v":0.8},{"i":447,"v":-0.2},{"i":448,"v":0.4},{"i":449,"v":-0.6},{"i":450,"v":0.3},{"i":451,"v":0.5},{"i":452,"v":-0.3},{"i":453,"v":0.2},{"i":454,"v":-0.5},{"i":455,"v":0.6},{"i":456,"v":1.0},{"i":457,"v":-0.4},{"i":458,"v":0.3},{"i":459,"v":0.7},{"i":460,"v":-0.2},{"i":461,"v":0.4},{"i":462,"v":-0.6},{"i":463,"v":0.3},{"i":464,"v":0.5},{"i":465,"v":-0.3},{"i":466,"v":-1.55},{"i":467,"v":0.4},{"i":468,"v":0.2},{"i":469,"v":-0.4},{"i":470,"v":0.6},{"i":471,"v":-0.2},{"i":472,"v":0.5},{"i":473,"v":-0.5},{"i":474,"v":0.3},{"i":475,"v":1.7},{"i":476,"v":-1.0},{"i":477,"v":0.4},{"i":478,"v":-0.3},{"i":479,"v":0.6},{"i":480,"v":-0.2},{"i":481,"v":0.3},{"i":482,"v":-0.5},{"i":483,"v":0.4},{"i":484,"v":0.1},{"i":485,"v":-0.3},{"i":486,"v":0.5},{"i":487,"v":-0.6},{"i":488,"v":0.2},{"i":489,"v":0.4},{"i":490,"v":-0.2},{"i":491,"v":0.3},{"i":492,"v":-0.5},{"i":493,"v":0.2},{"i":494,"v":0.6},{"i":495,"v":-0.3},{"i":496,"v":0.4},{"i":497,"v":-0.2},{"i":498,"v":0.1},{"i":499,"v":-0.4},{"i":500,"v":0.5},{"i":501,"v":1.35},{"i":502,"v":-0.3},{"i":503,"v":0.4},{"i":504,"v":-0.2},{"i":505,"v":0.3},{"i":506,"v":-0.4},{"i":507,"v":0.5},{"i":508,"v":-0.1},{"i":509,"v":0.3}]
},
"vconcat":[
{"width":788,"height":83,"title":"x 10⁻³","data":{"name":"sig"},
 "mark":{"type":"line","color":"#2c64b4","strokeWidth":1.3,"clip":true},
 "encoding":{
  "x":{"field":"i","type":"quantitative","scale":{"domain":[-1,989],"nice":false,"zero":false},
   "axis":{"values":[0,100,200,300,400,500,600,700,800,900],"title":"Time steps","titlePadding":4,"labelPadding":8}},
  "y":{"field":"v","type":"quantitative","scale":{"domain":[-5,4.6],"nice":false},
   "axis":{"values":[-4,-2,0,2,4],"title":null,"labelPadding":4,"labelExpr":"datum.value < 0 ? '-' + (-datum.value) : '' + datum.value"}}}},
{"width":788,"height":64,"data":{"values":[]},"mark":"point","view":{"stroke":null}},
{"width":788,"height":83,"data":{"name":"ca"},
 "mark":{"type":"line","color":"#262626","strokeWidth":1.4,"clip":true},
 "encoding":{
  "x":{"field":"i","type":"quantitative","scale":{"domain":[0.6,71],"nice":false,"zero":false},
   "axis":{"values":[10,20,30,40,50,60,70],"title":null,"labelPadding":6}},
  "y":{"field":"v","type":"quantitative","scale":{"domain":[-0.02,0.015],"nice":false},
   "axis":{"values":[-0.02,-0.01,0,0.01],"title":"cA","titleX":-58,"titleY":34,"titleBaseline":"alphabetic","labelPadding":8,"labelExpr":"datum.value == 0 ? '0' : (datum.value < 0 ? '-' + format(-datum.value, '.2f') : format(datum.value, '.2f'))"}}}},
{"width":788,"height":34,"data":{"values":[]},"mark":"point","view":{"stroke":null}},
{"width":788,"height":85,"title":"x 10⁻³","data":{"name":"d4"},
 "mark":{"type":"line","color":"#262626","strokeWidth":1.4,"clip":true},
 "encoding":{
  "x":{"field":"i","type":"quantitative","scale":{"domain":[0.6,71],"nice":false,"zero":false},
   "axis":{"values":[10,20,30,40,50,60,70],"title":null,"labelPadding":6}},
  "y":{"field":"v","type":"quantitative","scale":{"domain":[-3.3,2.5],"nice":false},
   "axis":{"values":[-2,0,2],"title":"cD₄","titleX":-58,"titleBaseline":"alphabetic","labelPadding":4,"labelExpr":"datum.value < 0 ? '-' + (-datum.value) : '' + datum.value"}}}},
{"width":788,"height":31,"data":{"values":[]},"mark":"point","view":{"stroke":null}},
{"width":788,"height":84,"title":"x 10⁻³","data":{"name":"d3"},
 "mark":{"type":"line","color":"#262626","strokeWidth":1.4,"clip":true},
 "encoding":{
  "x":{"field":"i","type":"quantitative","scale":{"domain":[0.8,134.6],"nice":false,"zero":false},
   "axis":{"values":[20,40,60,80,100,120],"title":null,"labelPadding":6}},
  "y":{"field":"v","type":"quantitative","scale":{"domain":[-1.85,1.57],"nice":false},
   "axis":{"values":[-1,0,1],"title":"cD₃","titleX":-58,"titleBaseline":"alphabetic","labelPadding":4,"labelExpr":"datum.value < 0 ? '-' + (-datum.value) : '' + datum.value"}}}},
{"width":788,"height":35,"data":{"values":[]},"mark":"point","view":{"stroke":null}},
{"width":788,"height":82,"title":"x 10⁻³","data":{"name":"d2"},
 "mark":{"type":"line","color":"#262626","strokeWidth":1.3,"clip":true},
 "encoding":{
  "x":{"field":"i","type":"quantitative","scale":{"domain":[0.6,260.2],"nice":false,"zero":false},
   "axis":{"values":[50,100,150,200,250],"title":null,"labelPadding":6}},
  "y":{"field":"v","type":"quantitative","scale":{"domain":[-1.9,1.35],"nice":false},
   "axis":{"values":[-1,0,1],"title":"cD₂","titleX":-58,"titleBaseline":"alphabetic","labelPadding":4,"labelExpr":"datum.value < 0 ? '-' + (-datum.value) : '' + datum.value"}}}},
{"width":788,"height":37,"data":{"values":[]},"mark":"point","view":{"stroke":null}},
{"width":788,"height":83,"title":"x 10⁻³","data":{"name":"d1"},
 "mark":{"type":"line","color":"#262626","strokeWidth":1.3,"clip":true},
 "encoding":{
  "x":{"field":"i","type":"quantitative","scale":{"domain":[1,509],"nice":false,"zero":false},
   "axis":{"values":[50,100,150,200,250,300,350,400,450,500],"title":"Coefficient indices","titlePadding":2,"labelPadding":4}},
  "y":{"field":"v","type":"quantitative","scale":{"domain":[-1.83,1.72],"nice":false},
   "axis":{"values":[-1,0,1],"title":"cD₁","titleX":-58,"titleBaseline":"alphabetic","labelPadding":4,"labelExpr":"datum.value < 0 ? '-' + (-datum.value) : '' + datum.value"}}}}
]
}
